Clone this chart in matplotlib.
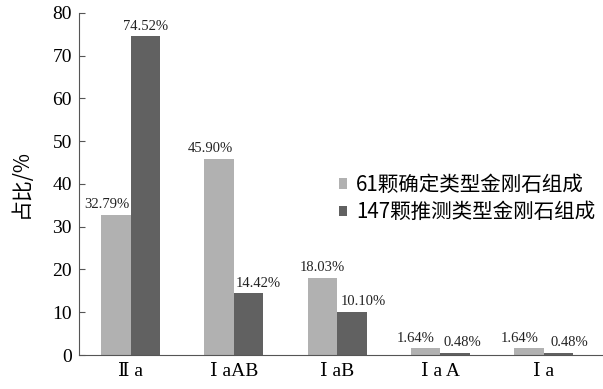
import matplotlib
matplotlib.use("Agg")
import matplotlib.pyplot as plt
import numpy as np

categories = ["Ⅱ a", "Ⅰ aAB", "Ⅰ aB", "Ⅰ a A", "Ⅰ a"]
series_names = ["61颗确定类型金刚石组成", "147颗推测类型金刚石组成"]
confirmed = [32.79, 45.90, 18.03, 1.64, 1.64]
inferred = [74.52, 14.42, 10.10, 0.48, 0.48]
yticks = [0, 10, 20, 30, 40, 50, 60, 70, 80]

# horizontal nudges of the value labels (points)
nudge_confirmed = [-6.5, -6.5, 0, -7, -7]
nudge_inferred = [0, 7, 8.5, 5, 8]

serif = ["Liberation Serif", "DejaVu Serif", "Noto Sans CJK SC"]
cjk = ["Noto Sans CJK SC", "Liberation Serif"]

fig = plt.figure(figsize=(6.03, 3.89), dpi=100)
ax = fig.add_axes([0.131, 0.0874, 0.869, 0.8792])

x = np.arange(len(categories))
w = 0.285
ax.bar(x - w / 2, confirmed, w, color="#b1b1b1", label=series_names[0])
ax.bar(x + w / 2, inferred, w, color="#616161", label=series_names[1])

for xi, v, dx in zip(x, confirmed, nudge_confirmed):
    ax.annotate(f"{v:.2f}%", (xi - w / 2, v), xytext=(dx, 2.5), textcoords="offset points",
                ha="center", va="bottom", fontsize=10.5, family=serif, color="#222222")
for xi, v, dx in zip(x, inferred, nudge_inferred):
    ax.annotate(f"{v:.2f}%", (xi + w / 2, v), xytext=(dx, 2.5), textcoords="offset points",
                ha="center", va="bottom", fontsize=10.5, family=serif, color="#222222")

ax.set_xlim(-0.5, 4.575)
ax.set_ylim(0, 80)
ax.set_yticks(yticks)
ax.set_yticklabels([str(t) for t in yticks], fontsize=14, family=serif)
ax.set_xticks(x)
ax.set_xticklabels(categories, fontsize=14, family=serif)
ax.tick_params(axis="y", direction="in", length=4, width=0.8, color="#555555", pad=5)
ax.tick_params(axis="x", length=0, pad=6)
for s in ["top", "right"]:
    ax.spines[s].set_visible(False)
for s in ["left", "bottom"]:
    ax.spines[s].set_color("#555555")
    ax.spines[s].set_linewidth(0.8)

ax.set_ylabel("占比/%", fontsize=15, family=cjk, labelpad=15)

leg = ax.legend(loc="center left", bbox_to_anchor=(0.496, 0.4576), frameon=False,
                prop={"family": cjk, "size": 14.8}, handlelength=0.4, handleheight=0.4,
                handletextpad=0.42, labelspacing=0.25, borderpad=0, borderaxespad=0)

fig.savefig("out.png", dpi=100)
